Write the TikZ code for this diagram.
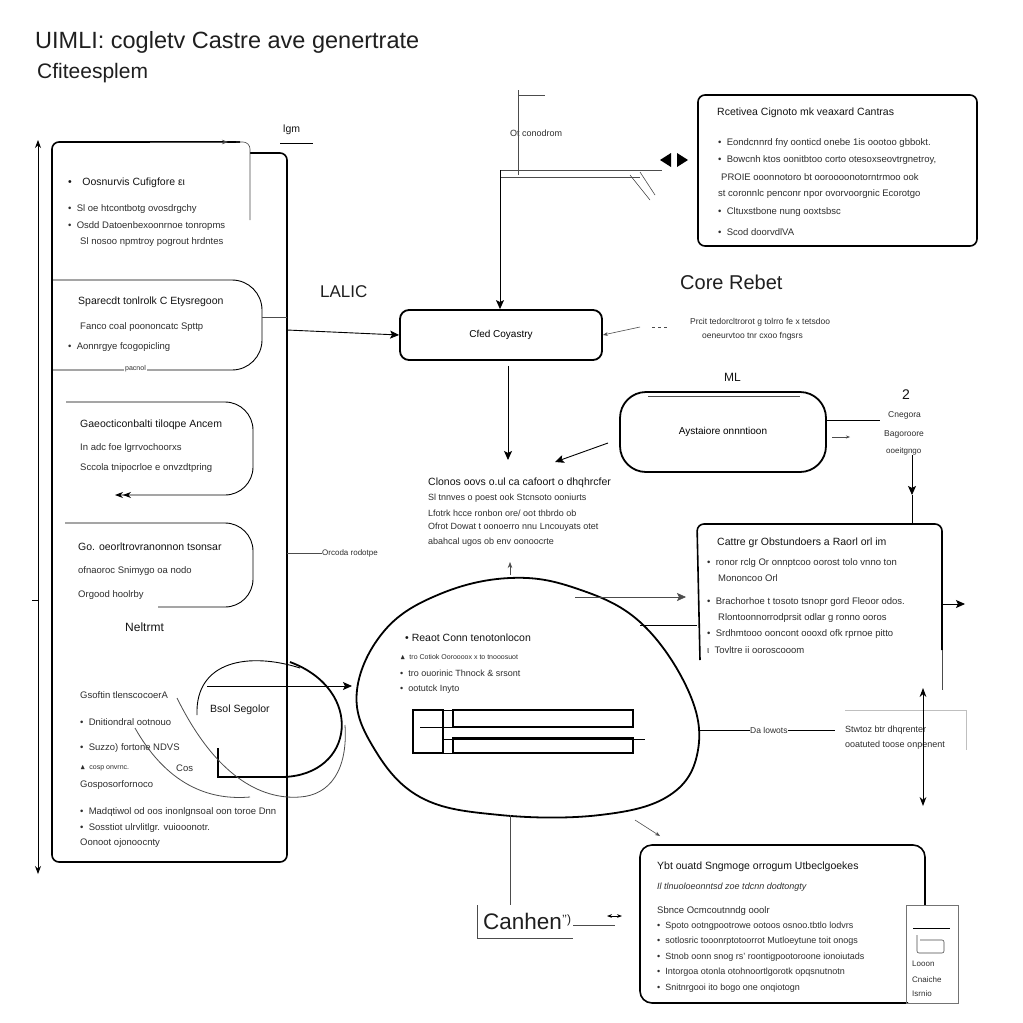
\documentclass[tikz,border=0pt]{standalone}
\usepackage{amssymb}
\usepackage{fontspec}
\setmainfont{Liberation Sans}
\usetikzlibrary{arrows.meta}
\begin{document}
\begin{tikzpicture}[x=1pt,y=-1pt,
  t/.style={anchor=west,inner sep=0pt,font=\fontsize{9.5}{11}\selectfont,text=black!82},
  th/.style={anchor=west,inner sep=0pt,font=\fontsize{10.5}{12}\selectfont,text=black!92},
  big/.style={anchor=west,inner sep=0pt,font=\fontsize{20}{22}\selectfont,text=black!88},
  bx/.style={draw,line width=1.6pt,rounded corners=7pt},
  ln/.style={line width=0.9pt},
  thn/.style={line width=0.6pt,black!70},
  arr/.style={ln,-{Stealth[length=9pt,width=8pt,inset=2pt]}},
  cur/.style={line width=1.8pt}]
\useasboundingbox[fill=white] (0,0) rectangle (1023,1023);

% ---------- title ----------
\node[big,font=\fontsize{23.5}{25}\selectfont] (title1) at (35,42) {UIMLI: cogletv Castre ave genertrate};
\node[big,font=\fontsize{21}{23}\selectfont] (title2) at (37,73) {Cfiteesplem};

% ---------- left long arrow ----------
\coordinate (la) at (38,140);
\coordinate (lb) at (38,874);
\draw[ln,{Stealth[length=8pt]}-{Stealth[length=8pt]}] (la) -- (lb);
\draw[ln] (32,600) -- (38,600);

% ---------- left big box ----------
\draw[bx] (250,153) -- (287,153) -- (287,862) -- (52,862) -- (52,142) -- (240,142);
\draw[thn,rounded corners=7pt] (236,142) -- (250,142) -- (250,220);
\draw[thn,-{Stealth[length=6pt]}] (150,142) -- (228,142);
\node[th] (lgm) at (283,130) {lgm};
\draw[ln] (280,143) -- (313,143);

% section 1
\node[th] (s1t) at (68,183) {\textbullet\quad Oosnurvis Cufigfore ει};
\node[t] (s1a) at (68,209) {\textbullet\ \ Sl oe htcontbotg ovosdrgchy};
\node[t] (s1b) at (68,226) {\textbullet\ \ Osdd Datoenbexoonrnoe tonropms};
\node[t] (s1c) at (80,242) {Sl nosoo npmtroy pogrout hrdntes};

% section 2
\draw[ln,rounded corners=30pt] (52,280) -- (262,280) -- (262,370) -- (52,370);
\node[th] (s2t) at (78,302) {Sparecdt tonlrolk C Etysregoon};
\node[t] (s2a) at (80,327) {Fanco coal poononcatc Spttp};
\node[t] (s2b) at (68,347) {\textbullet\ \ Aonnrgye fcogopicling};
\node[t,fill=white,inner sep=1pt,font=\fontsize{7}{8}\selectfont] (s2c) at (124,369) {pacnol};
\draw[thn] (262,317) -- (287,317);

% section 3
\draw[ln,rounded corners=28pt,-{Stealth[length=8pt]Stealth[length=8pt]}] (66,402) -- (253,402) -- (253,495) -- (115,495);
\node[th] (s3t) at (80,425) {Gaeocticonbalti tiloqpe Ancem};
\node[t] (s3a) at (80,448) {In adc foe lgrrvochoorxs};
\node[t] (s3b) at (80,468) {Sccola tnipocrloe e onvzdtpring};

% section 4
\draw[ln,rounded corners=28pt] (65,523) -- (253,523) -- (253,607) -- (158,607);
\node[th] (s4t) at (78,547) {Go. oeorltrovranonnon tsonsar};
\node[t] (s4a) at (78,571) {ofnaoroc Snimygo oa nodo};
\node[t] (s4b) at (78,595) {Orgood hoolrby};
\node[th,font=\fontsize{12}{13}\selectfont] (nel) at (125,627) {Neltrmt};

% connector to right of left box
\coordinate (lbr) at (287,553);
\node[t,font=\fontsize{8}{9}\selectfont] (orc) at (322,553) {Orcoda rodotpe};
\draw[thn] (lbr) -- (orc.west);

% section 5
\node[t] (s5t) at (80,695) {Gsoftin tlenscocoerA};
\node[t] (s5a) at (80,722) {\textbullet\ \ Dnitiondral ootnouo};
\node[t] (s5b) at (80,748) {\textbullet\ \ Suzzo) fortone NDVS};
\node[t] (s5c) at (80,768) {\scriptsize$\blacktriangle$\ \ cosp onvrnc.};
\node[t] (s5d) at (176,768) {Cos};
\node[t] (s5e) at (80,785) {Gosposorfornoco};
\node[t] (s5f) at (80,812) {\textbullet\ \ Madqtiwol od oos inonlgnsoal oon toroe Dnn};
\node[t] (s5g) at (80,828) {\textbullet\ \ Sosstiot ulrvlitlgr. vuiooonotr.};
\node[t] (s5h) at (80,843) {Oonoot ojonoocnty};
\node[th] (bsol) at (210,710) {Bsol Segolor};

% loop curves
\draw[ln] (197,715) .. controls (195,660) and (250,652) .. (300,668);
\draw[cur] (290,662) .. controls (365,690) and (355,775) .. (283,777) -- (218,777) -- (218,748);
\draw[thn,line width=0.8pt] (177,698) .. controls (215,775) and (260,800) .. (300,797) .. controls (330,795) and (348,770) .. (345,725);
\draw[thn,line width=0.8pt] (135,728) .. controls (170,790) and (215,800) .. (250,797);

% ---------- centre top ----------
\node[big,font=\fontsize{17}{19}\selectfont] (lalic) at (320,292) {LALIC};
\node[t,font=\fontsize{9}{10}\selectfont] (otc) at (510,133) {Ot conodrom};
\coordinate (ct1) at (518,90);
\coordinate (ct2) at (518,175);
\coordinate (ct3) at (500,170);
\coordinate (ct4) at (662,170);
\draw[thn] (ct1) -- (ct2);
\draw[thn] (518,95) -- (545,95);
\draw[thn] (ct3) -- (ct4);
\draw[thn] (500,177) -- (640,177);
\draw[thn] (630,175) -- (650,200);
\draw[thn] (640,172) -- (655,195);
\fill (660,160) -- (671,153) -- (671,167) -- cycle;
\fill (688,160) -- (677,153) -- (677,167) -- cycle;

% central box
\node[draw,line width=1.8pt,rounded corners=9pt,minimum width=202pt,minimum height=50pt,font=\fontsize{10}{11}\selectfont] (cc) at (501,335) {Cfed Coyastry};
\draw[arr] (ct3) -- (cc.north -| ct3);
\coordinate (lalicin) at (287,330);
\draw[arr] (lalicin) -- (cc.west);
\draw[thn,{Stealth[length=5pt]}-] (cc.east) -- (640,327);
\draw[thn,dashed] (652,327) -- (668,327);

\node[big] (core) at (680,282) {Core Rebet};
\node[t,font=\fontsize{8.5}{10}\selectfont] (cr1) at (690,322) {Prcit tedorcltrorot g tolrro fe x tetsdoo};
\node[t,font=\fontsize{8.5}{10}\selectfont] (cr2) at (702,336) {oeneurvtoo tnr cxoo fngsrs};

\coordinate (cdown) at (508,460);
\draw[arr] (cc.south -| cdown) ++(0,5) -- (cdown);

% ML box
\node[th,font=\fontsize{12}{13}\selectfont] (ml) at (724,377) {ML};
\node[draw,line width=1.8pt,rounded corners=26pt,minimum width=206pt,minimum height=80pt,font=\fontsize{10}{11}\selectfont] (ays) at (723,432) {Aystaiore onnntioon};
\draw[thn] (648,396) -- (800,396);
\coordinate (aysl) at (555,462);
\draw[arr] (608,443) -- (aysl);
\node[th,font=\fontsize{14}{15}\selectfont] (two) at (902,395) {2};
\node[t,font=\fontsize{8.5}{10}\selectfont] (cg1) at (888,415) {Cnegora};
\node[t,font=\fontsize{8.5}{10}\selectfont] (cg2) at (884,434) {Bagoroore};
\node[t,font=\fontsize{8}{9}\selectfont] (cg3) at (886,451) {ooeitgngo};
\draw[ln] (ays.east |- 0,420) -- (880,420);
\draw[thn,-{Stealth[length=4pt]}] (832,437) -- (850,437);

% text block under central
\node[th] (gt) at (428,483) {Clonos oovs o.ul ca cafoort o dhqhrcfer};
\node[t,font=\fontsize{9}{10}\selectfont] (g1) at (428,498) {Sl tnnves o poest ook Stcnsoto ooniurts};
\node[t,font=\fontsize{9}{10}\selectfont] (g2) at (428,513) {Lfotrk hcce ronbon ore/ oot thbrdo ob};
\node[t,font=\fontsize{9}{10}\selectfont] (g3) at (428,527) {Ofrot Dowat t oonoerro nnu Lncouyats otet};
\node[t,font=\fontsize{9}{10}\selectfont] (g4) at (428,542) {abahcal ugos ob env oonoocrte};

% ---------- top right box ----------
\node[bx,minimum width=279pt,minimum height=151pt] (tr) at (837.5,170.5) {};
\node[th] (trt) at (717,113) {Rcetivea Cignoto mk veaxard Cantras};
\node[t] (tr1) at (718,143) {\textbullet\ \ Eondcnnrd fny oonticd onebe 1is oootoo gbbokt.};
\node[t] (tr2) at (718,160) {\textbullet\ \ Bowcnh ktos oonitbtoo corto otesoxseovtrgnetroy,};
\node[t] (tr3) at (721,177) {PROIE ooonnotoro bt ooroooonotorntrmoo ook};
\node[t] (tr4) at (718,194) {st coronnlc penconr npor ovorvoorgnic Ecorotgo};
\node[t] (tr5) at (718,212) {\textbullet\ \ Cltuxstbone nung ooxtsbsc};
\node[t] (tr6) at (718,232) {\textbullet\ \ Scod doorvdlVA};

% ---------- right middle box ----------
\coordinate (rm1) at (912,455);
\coordinate (rm2) at (912,495);
\draw[arr] (rm1) -- (rm2);
\draw[ln] (rm2) -- (912,524);
\draw[bx] (700,660) -- (697,524) -- (942,524) -- (942,650);
\draw[thn] (942,650) -- (942,690);
\node[th] (rmt) at (717,543) {Cattre gr Obstundoers a Raorl orl im};
\node[t] (rm3) at (707,563) {\textbullet\ \ ronor rclg Or onnptcoo oorost tolo vnno ton};
\node[t] (rm4) at (718,578) {Mononcoo Orl};
\node[t] (rm5) at (707,602) {\textbullet\ \ Brachorhoe t tosoto tsnopr gord Fleoor odos.};
\node[t] (rm6) at (718,618) {Rlontoonnorrodprsit odlar g ronno ooros};
\node[t] (rm7) at (707,634) {\textbullet\ \ Srdhmtooo ooncont oooxd ofk rprnoe pitto};
\node[t] (rm8) at (707,650) {ι\ \ Tovltre ii ooroscooom};
\draw[arr,ln] (942,604) -- (965,604);

% ---------- cloud ----------
\draw[cur] plot[smooth cycle, tension=0.65] coordinates {(357,690) (385,630) (440,594) (510,578) (575,588) (640,622) (688,690) (698,750) (670,795) (600,815) (500,815) (420,797) (372,745)};
\node[inner sep=0pt] (cloudc) at (527,700) {};
\draw[thn,-{Stealth[length=6pt]}] (510,575) -- (510,562);
\draw[arr] (207,686) -- (352,686);
\coordinate (cr) at (640,597);
\draw[arr,thn] (575,597) -- (686,597);
\draw[ln] (640,625) -- (697,625);

\node[th] (ct) at (405,638) {\textbullet\ Reaot Conn tenotonlocon};
\node[t,font=\fontsize{9}{10}\selectfont] (ca) at (400,657) {\scriptsize$\blacktriangle$\ \ tro Cotiok Ooroooox x to tnooosuot};
\node[t,font=\fontsize{9}{10}\selectfont] (cb) at (400,673) {\textbullet\ \ tro ouorinic Thnock \& srsont};
\node[t,font=\fontsize{9}{10}\selectfont] (cc2) at (400,689) {\textbullet\ \ ootutck Inyto};

\draw[line width=1.4pt] (413,710) rectangle (443,753);
\draw[line width=1.4pt] (453,710) rectangle (633,727);
\draw[line width=1.4pt] (453,738) rectangle (633,753);
\draw[ln] (443,710) -- (453,710);
\draw[ln] (420,727) -- (453,727);
\draw[ln] (443,739) -- (645,739);
\draw[ln] (443,753) -- (453,753);

% right of cloud
\node[t,font=\fontsize{8.5}{10}\selectfont] (dal) at (750,730) {Da lowots};
\draw[ln] (698,730) -- (dal.west);
\draw[ln] (dal.east) -- (835,730);
\draw[black!25,line width=0.8pt] (845,710) -- (966,710) -- (966,750);
\node[t,font=\fontsize{9}{10}\selectfont] (st1) at (845,730) {Stwtoz btr dhqrenter};
\node[t,font=\fontsize{9}{10}\selectfont] (st2) at (845,745) {ooatuted toose onpenent};
\coordinate (va) at (923,688);
\coordinate (vb) at (923,806);
\draw[ln,{Stealth[length=9pt]}-{Stealth[length=9pt]}] (va) -- (vb);

% ---------- bottom ----------
\coordinate (bt1) at (510,815);
\coordinate (bt2) at (510,905);
\draw[thn] (bt1) -- (bt2);
\node[big,font=\fontsize{22.5}{24}\selectfont] (canhen) at (483,921) {Canhen{\fontsize{12}{12}\selectfont\raisebox{6pt}{’’)}}};
\draw[thn] (477,905) -- (477,938) -- (573,938);
\coordinate (bb) at (640,925);
\draw[thn] (canhen.east) ++(2,4) -- (615,925);
\draw[ln,{Stealth[length=5pt]}-{Stealth[length=5pt]}] (607,916) -- (622,916);
\draw[thn,-{Stealth[length=5pt]}] (635,820) -- (660,836);

\draw[bx,rounded corners=12pt] (925,905) -- (925,845) -- (640,845) -- (640,1003) -- (908,1003);
\draw[black!55,line width=0.8pt] (906,905) rectangle (958,1003);
\node[th] (bt) at (657,867) {Ybt ouatd Sngmoge orrogum Utbeclgoekes};
\node[t,font=\itshape\fontsize{9}{10}\selectfont] (bi) at (657,887) {Il tlnuoloeonntsd zoe tdcnn dodtongty};
\node[t] (bs) at (657,911) {Sbnce Ocmcoutnndg ooolr};
\node[t,font=\fontsize{9}{10}\selectfont] (b1) at (657,926) {\textbullet\ \ Spoto ootngpootrowe ootoos osnoo.tbtlo lodvrs};
\node[t,font=\fontsize{9}{10}\selectfont] (b2) at (657,941) {\textbullet\ \ sotlosric tooonrptotoorrot Mutloeytune toit onogs};
\node[t,font=\fontsize{9}{10}\selectfont] (b3) at (657,957) {\textbullet\ \ Stnob oonn snog rs' roontigpootoroone ionoiutads};
\node[t,font=\fontsize{9}{10}\selectfont] (b4) at (657,972) {\textbullet\ \ Intorgoa otonla otohnoortlgorotk opqsnutnotn};
\node[t,font=\fontsize{9}{10}\selectfont] (b5) at (657,988) {\textbullet\ \ Snitnrgooi ito bogo one onqiotogn};
\draw[ln] (913,928) -- (950,928);
\draw[thn,rounded corners=2pt] (917,935) -- (917,953) -- (944,953) -- (944,940) -- (920,940);
\node[t,font=\fontsize{8}{9}\selectfont] (lc1) at (912,964) {Looon};
\node[t,font=\fontsize{8}{9}\selectfont] (lc2) at (912,980) {Cnaiche};
\node[t,font=\fontsize{8}{9}\selectfont] (lc3) at (912,994) {Isrnio};
\end{tikzpicture}
\end{document}
